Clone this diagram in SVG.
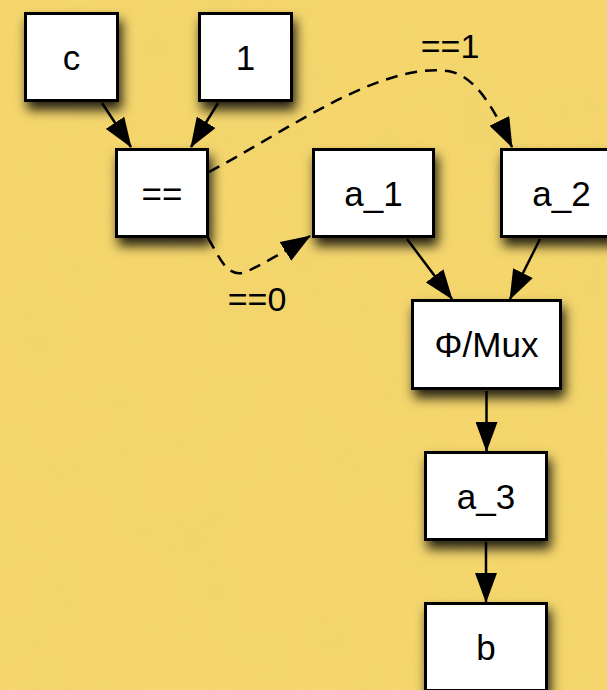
<svg xmlns="http://www.w3.org/2000/svg" width="607" height="690" viewBox="0 0 607 690">
  <defs>
    <filter id="shadow" x="-30%" y="-30%" width="170%" height="180%">
      <feDropShadow dx="3" dy="8" stdDeviation="6" flood-color="#000" flood-opacity="0.85"/>
    </filter>
    <filter id="grain" x="0" y="0" width="100%" height="100%">
      <feTurbulence type="fractalNoise" baseFrequency="0.012" numOctaves="3" seed="4"/>
      <feColorMatrix type="matrix" values="0 0 0 0 0.75  0 0 0 0 0.6  0 0 0 0 0.2  0 0 0 0.9 -0.25"/>
    </filter>
    <marker id="arrow" markerUnits="userSpaceOnUse" markerWidth="30" markerHeight="22" viewBox="0 0 30 22" refX="29" refY="11" orient="auto">
      <path d="M0,0 L30,11 L0,22 z" fill="#000"/>
    </marker>
    <style>
      .box { fill: #fff; stroke: #000; stroke-width: 3; }
      .lbl { font-family: "Liberation Sans", Arial, sans-serif; font-size: 35px; fill: #000; text-anchor: middle; }
      .elbl { font-family: "Liberation Sans", Arial, sans-serif; font-size: 34px; fill: #000; text-anchor: middle; }
      .edge { fill: none; stroke: #000; stroke-width: 2.5; marker-end: url(#arrow); }
      .dash { stroke-dasharray: 12 8; }
    </style>
  </defs>

  <!-- paper background -->
  <rect width="607" height="690" fill="#f4d66c"/>
  <rect width="607" height="690" filter="url(#grain)" opacity="0.18"/>

  <!-- connectors -->
  <g id="edges">
    <path class="edge" d="M102,103 L131,147"/>
    <path class="edge" d="M218,103 L191,147"/>
    <path class="edge dash" d="M209,172 C285,132 380,62 448,71 C478,76 496,114 512,147"/>
    <path class="edge dash" d="M208,238 C220,258 228,282 250,270 C266,262 286,251 310,236"/>
    <path class="edge" d="M407,239 L452,299"/>
    <path class="edge" d="M540,239 L510,299"/>
    <path class="edge" d="M486.5,391 L486.5,451"/>
    <path class="edge" d="M486,542 L486,602"/>
    <text class="elbl" x="450" y="58">==1</text>
    <text class="elbl" x="257" y="311">==0</text>
  </g>

  <!-- nodes -->
  <g id="node-c">
    <rect class="box" x="25.5" y="13.5" width="92" height="87" filter="url(#shadow)"/>
    <text class="lbl" x="71.5" y="70">c</text>
  </g>
  <g id="node-one">
    <rect class="box" x="199.5" y="13.5" width="92" height="87" filter="url(#shadow)"/>
    <text class="lbl" x="245.5" y="70">1</text>
  </g>
  <g id="node-eq">
    <rect class="box" x="116.5" y="149.5" width="91" height="87" filter="url(#shadow)"/>
    <text class="lbl" x="162" y="206">==</text>
  </g>
  <g id="node-a1">
    <rect class="box" x="313.5" y="149.5" width="120" height="87" filter="url(#shadow)"/>
    <text class="lbl" x="373.5" y="206">a_1</text>
  </g>
  <g id="node-a2">
    <rect class="box" x="501.5" y="149.5" width="120" height="87" filter="url(#shadow)"/>
    <text class="lbl" x="561.5" y="206">a_2</text>
  </g>
  <g id="node-mux">
    <rect class="box" x="412.5" y="300.5" width="148" height="88" filter="url(#shadow)"/>
    <text class="lbl" x="486.5" y="357">Φ/Mux</text>
  </g>
  <g id="node-a3">
    <rect class="box" x="425.5" y="452.5" width="121" height="87" filter="url(#shadow)"/>
    <text class="lbl" x="486" y="509">a_3</text>
  </g>
  <g id="node-b">
    <rect class="box" x="425.5" y="603.5" width="121" height="87" filter="url(#shadow)"/>
    <text class="lbl" x="486" y="660">b</text>
  </g>
</svg>
